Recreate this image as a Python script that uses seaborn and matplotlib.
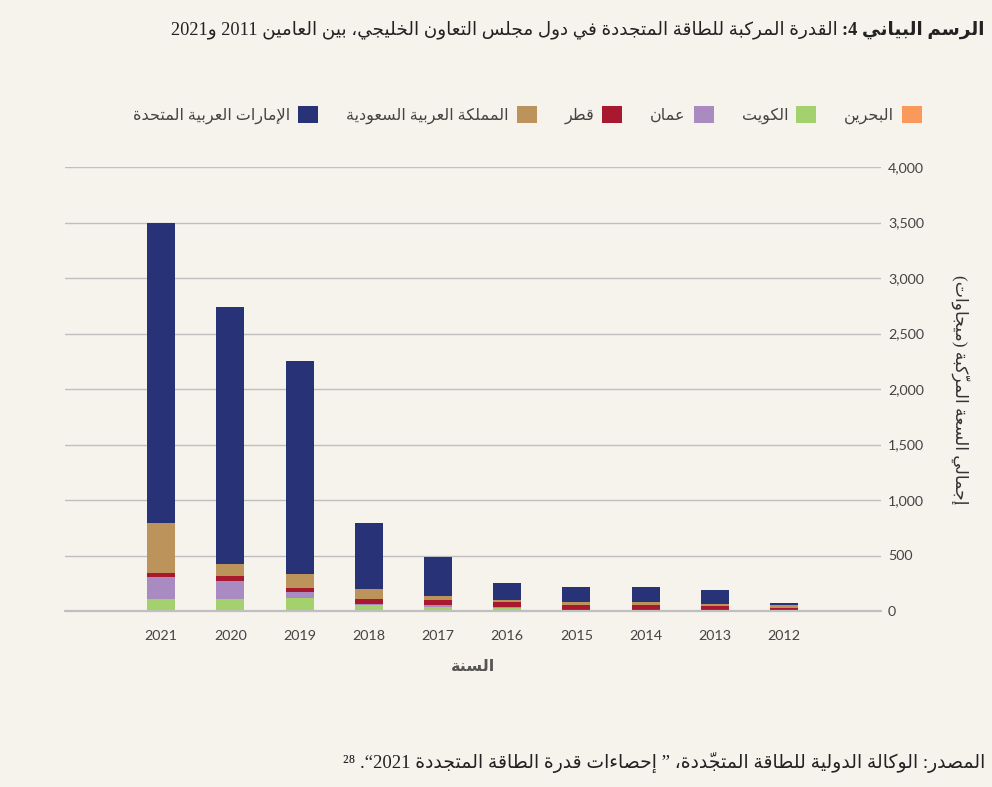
import pandas as pd
import seaborn as sns
import matplotlib.pyplot as plt
from matplotlib.patches import Patch

# ---- data (MW) ----
years = [2021, 2020, 2019, 2018, 2017, 2016, 2015, 2014, 2013, 2012]
bahrain = [2, 2, 2, 1, 1, 1, 1, 1, 1, 0]
kuwait = [106, 106, 117, 53, 35, 25, 2, 2, 1, 0]
oman = [199, 162, 54, 9, 15, 9, 1, 1, 3, 0]
qatar = [36, 45, 36, 45, 48, 45, 52, 52, 42, 27]
saudi = [451, 108, 126, 90, 36, 18, 27, 27, 20, 27]
uae = [2697, 2317, 1920, 595, 351, 153, 135, 135, 126, 18]

countries = ["البحرين", "الكويت", "عمان", "قطر", "المملكة العربية السعودية", "الإمارات العربية المتحدة"]
colors = ["#F99A5C", "#A3D16D", "#A98AC1", "#A8192F", "#BC935B", "#283377"]
series = [bahrain, kuwait, oman, qatar, saudi, uae]

title_bold = "الرسم البياني 4:"
title_rest = "القدرة المركبة للطاقة المتجددة في دول مجلس التعاون الخليجي، بين العامين 2011 و2021"
ylabel = "إجمالي السعة المركّبة (ميجاوات)"
xlabel = "السنة"
source = "المصدر: الوكالة الدولية للطاقة المتجدّدة، ” إحصاءات قدرة الطاقة المتجددة 2021“. ²⁸"

# ---- minimal Arabic shaping + RTL ordering (matplotlib has no text shaping) ----
FORMS = {
    "ء": (0xFE80, 1), "آ": (0xFE81, 2), "أ": (0xFE83, 2), "ؤ": (0xFE85, 2), "إ": (0xFE87, 2),
    "ئ": (0xFE89, 4), "ا": (0xFE8D, 2), "ب": (0xFE8F, 4), "ة": (0xFE93, 2), "ت": (0xFE95, 4),
    "ث": (0xFE99, 4), "ج": (0xFE9D, 4), "ح": (0xFEA1, 4), "خ": (0xFEA5, 4), "د": (0xFEA9, 2),
    "ذ": (0xFEAB, 2), "ر": (0xFEAD, 2), "ز": (0xFEAF, 2), "س": (0xFEB1, 4), "ش": (0xFEB5, 4),
    "ص": (0xFEB9, 4), "ض": (0xFEBD, 4), "ط": (0xFEC1, 4), "ظ": (0xFEC5, 4), "ع": (0xFEC9, 4),
    "غ": (0xFECD, 4), "ف": (0xFED1, 4), "ق": (0xFED5, 4), "ك": (0xFED9, 4), "ل": (0xFEDD, 4),
    "م": (0xFEE1, 4), "ن": (0xFEE5, 4), "ه": (0xFEE9, 4), "و": (0xFEED, 2), "ى": (0xFEEF, 2),
    "ي": (0xFEF1, 4),
}
LAMALEF = {"آ": 0xFEF5, "أ": 0xFEF7, "إ": 0xFEF9, "ا": 0xFEFB}
MARKS = set(chr(c) for c in range(0x064B, 0x0653))
MIRROR = {"(": ")", ")": "("}


def _neighbor(s, i, step):
    j = i + step
    while 0 <= j < len(s) and s[j] in MARKS:
        j += step
    return s[j] if 0 <= j < len(s) else None


def shape(s):
    out = []
    i = 0
    while i < len(s):
        c = s[i]
        if c not in FORMS:
            out.append(c)
            i += 1
            continue
        prev = _neighbor(s, i, -1)
        pj = prev in FORMS and FORMS[prev][1] == 4
        if c == "ل" and i + 1 < len(s) and s[i + 1] in LAMALEF:
            out.append(chr(LAMALEF[s[i + 1]] + (1 if pj else 0)))
            i += 2
            continue
        nxt = _neighbor(s, i, 1)
        base, nf = FORMS[c]
        nj = nf == 4 and nxt in FORMS and FORMS[nxt][1] > 1
        if nf == 1:
            out.append(chr(base))
        elif nf == 2:
            out.append(chr(base + (1 if pj else 0)))
        else:
            out.append(chr(base + {(0, 0): 0, (1, 0): 1, (0, 1): 2, (1, 1): 3}[(pj, nj)]))
        i += 1
    return "".join(out)


def ar(s):
    s = shape(s)
    runs = []
    for c in s:
        ltr = c.isdigit() or c.isascii() and c.isalpha()
        if runs and runs[-1][0] == ltr:
            runs[-1][1] += c
        else:
            runs.append([ltr, c])
    parts = []
    for ltr, t in reversed(runs):
        if ltr:
            parts.append(t)
            continue
        clusters = []
        for c in t:
            if c in MARKS and clusters:
                clusters[-1] += c
            else:
                clusters.append(c)
        parts.append("".join(MIRROR.get(x, x) for x in reversed(clusters)))
    return "".join(parts)


# ---- table ----
rows = []
for name, vals in zip(countries, series):
    for y, v in zip(years, vals):
        rows.append({"year": y, "country": name, "value": v})
df = pd.DataFrame(rows)

BG = "#F6F2EC"
GRID = "#BFBFBF"
TXT = "#333333"
AR_FONT = ["Liberation Serif", "DejaVu Sans"]
NUM_FONT = ["Lato", "DejaVu Sans"]

sns.set_theme(style="white")
plt.rcParams["font.family"] = ["DejaVu Sans"]

fig = plt.figure(figsize=(9.92, 7.87), dpi=100, facecolor=BG)
ax = fig.add_axes([65 / 992, 1 - 611 / 787, 816 / 992, 444 / 787])
ax.set_facecolor(BG)

# first hue level ends up on top of the stack -> reverse order
sns.histplot(
    data=df, x="year", hue="country", weights="value", multiple="stack",
    discrete=True, shrink=0.405, hue_order=countries[::-1], palette=colors[::-1],
    linewidth=0, alpha=1, legend=False, ax=ax,
)

ax.set_xlim(2021 + 1.39, 2012 - 1.40)
ax.set_ylim(0, 4000)
ax.set_xticks(years)
ax.set_xticklabels([str(y) for y in years], family=NUM_FONT, fontsize=10.3, color="#444444")
ax.set_yticks(range(0, 4001, 500))
ax.set_yticklabels([f"{v:,}" for v in range(0, 4001, 500)], family=NUM_FONT, fontsize=10.3, color="#444444")
ax.yaxis.tick_right()
ax.tick_params(axis="y", length=0, pad=5)
ax.tick_params(axis="x", length=0, pad=14)
ax.grid(axis="y", color=GRID, linewidth=1.0)
ax.set_axisbelow(True)
# baseline drawn unclipped so it stays as strong as the other grid lines
ax.axhline(0, color=GRID, linewidth=1.6, clip_on=False, zorder=3)
for sp in ax.spines.values():
    sp.set_visible(False)

ax.set_xlabel(ar(xlabel), fontsize=11.5, fontweight="bold", color="#555555", labelpad=12, family=AR_FONT)
ax.set_ylabel("")
fig.text(960 / 992, 1 - 390 / 787, ar(ylabel), rotation=270, ha="center", va="center",
         fontsize=12.3, color=TXT, family=AR_FONT)

# legend (right-to-left)
handles = [Patch(facecolor=c, edgecolor="none") for c in colors[::-1]]
labels = [ar(c) for c in countries[::-1]]
fig.legend(handles, labels, loc="center right", bbox_to_anchor=(922 / 992, 1 - 115 / 787),
           ncol=6, frameon=False, markerfirst=False, handlelength=1.25, handleheight=1.25,
           handletextpad=0.5, columnspacing=1.75, borderpad=0, borderaxespad=0,
           prop={"family": AR_FONT, "size": 11.5}, labelcolor="#444444")

# title, bold part on the right
tb = fig.text(985 / 992, 1 - 30 / 787, ar(title_bold), ha="right", va="center",
              fontsize=13.2, fontweight="bold", color="#222222", family=AR_FONT)
fig.canvas.draw()
bb = tb.get_window_extent(renderer=fig.canvas.get_renderer())
fig.text((bb.x0 - 5) / 992, 1 - 30 / 787, ar(title_rest), ha="right", va="center",
         fontsize=13.2, color="#222222", family=AR_FONT)

fig.text(985 / 992, 1 - 762 / 787, ar(source), ha="right", va="center",
         fontsize=13.5, color="#222222", family=AR_FONT)

fig.savefig("out.png", dpi=100, facecolor=BG)
